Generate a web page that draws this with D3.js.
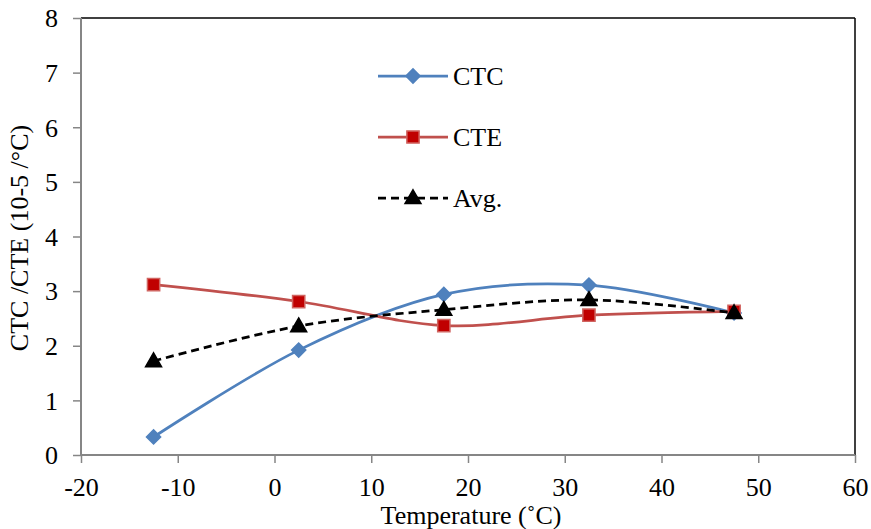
<!DOCTYPE html>
<html>
<head>
<meta charset="utf-8">
<script src="https://cdn.jsdelivr.net/npm/d3@7/dist/d3.min.js"></script>
<style>
  html, body { margin: 0; padding: 0; background: #fff; }
  svg { display: block; }
  text { font-family: "Liberation Serif", "Times New Roman", serif; fill: #000; }
</style>
</head>
<body>
<svg id="chart" width="871" height="529"></svg>
<script>
// ---- data ----
const temperatures = [-12.5, 2.5, 17.5, 32.5, 47.5];
const ctcValues = [0.33, 1.92, 2.94, 3.11, 2.60];
const cteValues = [3.12, 2.81, 2.37, 2.56, 2.63];
const avgValues = [1.72, 2.36, 2.66, 2.84, 2.60];
const seriesNames = ["CTC", "CTE", "Avg."];
const xTicks = [-20, -10, 0, 10, 20, 30, 40, 50, 60];
const yTicks = [0, 1, 2, 3, 4, 5, 6, 7, 8];
const xTitle = "Temperature (˚C)";
const yTitle = "CTC /CTE (10-5 /°C)";

// ---- layout ----
const svg = d3.select("#chart");
const pLeft = 81, pRight = 855, pTop = 18, pBottom = 455;
const x = d3.scaleLinear().domain([-20, 60]).range([pLeft, pRight]);
const y = d3.scaleLinear().domain([0, 8]).range([pBottom, pTop]);
const fontSize = 26;
const axisGray = "#868686";
const serif = "'Liberation Serif', 'Times New Roman', serif";

// plot border (top & right black)
svg.append("line").attr("x1", pLeft).attr("x2", pRight).attr("y1", pTop).attr("y2", pTop)
  .attr("stroke", "#000").attr("stroke-width", 1.5);
svg.append("line").attr("x1", pRight).attr("x2", pRight).attr("y1", pTop).attr("y2", pBottom)
  .attr("stroke", "#000").attr("stroke-width", 1.5);

// axes
const xAxis = d3.axisBottom(x).tickValues(xTicks).tickSize(8).tickFormat(d3.format("d"));
const gx = svg.append("g").attr("transform", `translate(0,${pBottom})`).call(xAxis)
  .attr("font-family", serif);
gx.select(".domain").attr("stroke", axisGray).attr("stroke-width", 2).attr("d", `M${pLeft},0H${pRight}`);
gx.selectAll(".tick line").attr("stroke", axisGray).attr("stroke-width", 1.5);
gx.selectAll(".tick text").attr("font-size", fontSize).style("font-family", serif)
  .attr("fill", "#000").attr("y", 23).attr("dy", "0.7em").text(d => d < 0 ? "-" + Math.abs(d) : d);

const yAxis = d3.axisLeft(y).tickValues(yTicks).tickSize(8).tickFormat(d3.format("d"));
const gy = svg.append("g").attr("transform", `translate(${pLeft},0)`).call(yAxis)
  .attr("font-family", serif);
gy.select(".domain").attr("stroke", axisGray).attr("stroke-width", 2).attr("d", `M0,${pBottom}V${pTop}`);
gy.selectAll(".tick line").attr("stroke", axisGray).attr("stroke-width", 1.5);
gy.selectAll(".tick text").attr("font-size", fontSize).style("font-family", serif)
  .attr("fill", "#000").attr("x", -23).attr("dy", "0.34em");

// axis titles
svg.append("text").attr("x", (pLeft + pRight) / 2 + 3).attr("y", 524)
  .attr("text-anchor", "middle").attr("font-size", fontSize).style("font-family", serif).text(xTitle);
svg.append("text").attr("transform", `translate(28,238) rotate(-90)`)
  .attr("text-anchor", "middle").attr("font-size", fontSize).style("font-family", serif).text(yTitle);

// series
const series = [
  { name: seriesNames[0], values: ctcValues, color: "#4F81BD", dash: null, marker: "diamond", fill: "#4F81BD", mstroke: "#4F81BD" },
  { name: seriesNames[1], values: cteValues, color: "#C0504D", dash: null, marker: "square", fill: "#C00000", mstroke: "#D06460" },
  { name: seriesNames[2], values: avgValues, color: "#000000", dash: "8,5", marker: "triangle", fill: "#000", mstroke: "#000" }
];

const line = d3.line().x(d => x(d[0])).y(d => y(d[1])).curve(d3.curveCatmullRom.alpha(0));

function drawMarker(g, s, cx, cy) {
  let path;
  if (s.marker === "diamond") {
    path = g.append("path").attr("d", d3.symbol().type(d3.symbolSquare).size(100)())
      .attr("transform", `translate(${cx},${cy}) rotate(45)`);
  } else if (s.marker === "square") {
    path = g.append("path").attr("d", d3.symbol().type(d3.symbolSquare).size(150)())
      .attr("transform", `translate(${cx},${cy})`);
  } else {
    path = g.append("path").attr("d", d3.symbol().type(d3.symbolTriangle).size(110)())
      .attr("transform", `translate(${cx},${cy + 1})`);
  }
  path.attr("fill", s.fill).attr("stroke", s.mstroke).attr("stroke-width", 1.5);
}

series.forEach(s => {
  const pts = temperatures.map((t, i) => [t, s.values[i]]);
  const g = svg.append("g");
  g.append("path").attr("d", line(pts)).attr("fill", "none").attr("stroke", s.color)
    .attr("stroke-width", 2.75).attr("stroke-dasharray", s.dash);
  pts.forEach(p => drawMarker(g, s, x(p[0]), y(p[1])));
});

// legend
const legY = [76, 137, 198];
series.forEach((s, i) => {
  const g = svg.append("g");
  g.append("line").attr("x1", 378).attr("x2", 448).attr("y1", legY[i]).attr("y2", legY[i])
    .attr("stroke", s.color).attr("stroke-width", 2.75).attr("stroke-dasharray", s.dash);
  drawMarker(g, s, 413, legY[i]);
  g.append("text").attr("x", 453).attr("y", legY[i] + 9).attr("font-size", fontSize)
    .style("font-family", serif).text(s.name);
});
</script>
</body>
</html>
